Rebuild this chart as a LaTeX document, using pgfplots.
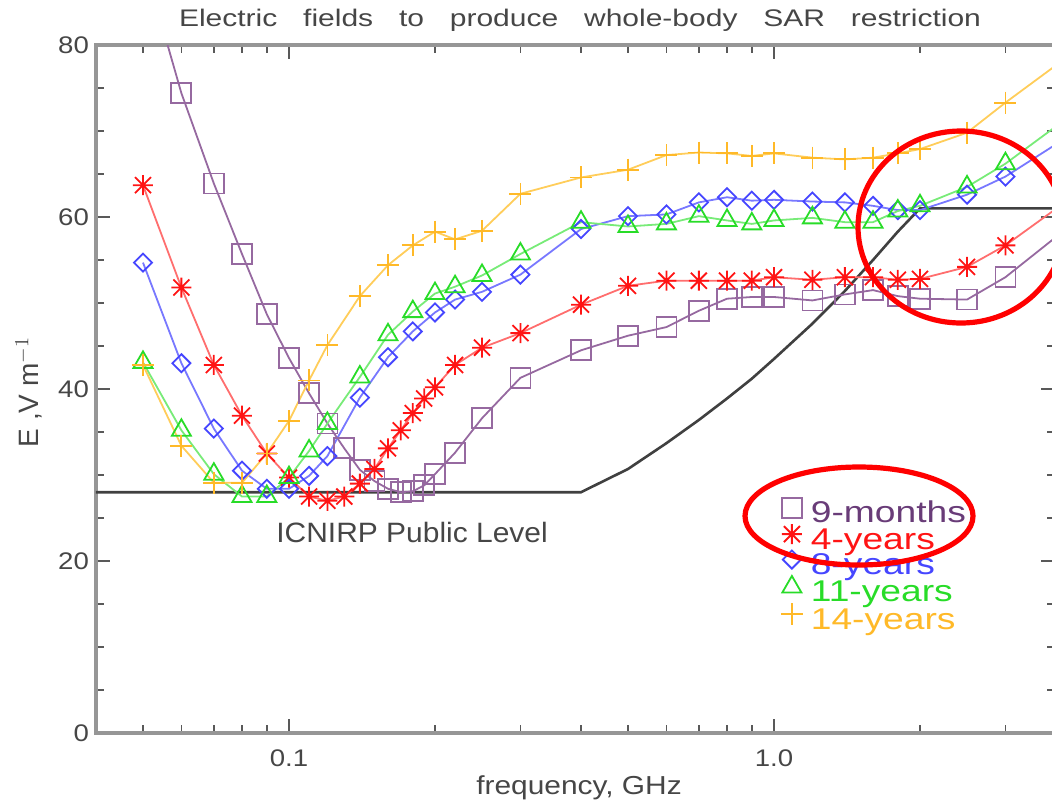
\documentclass[border=0pt]{standalone}
\usepackage{fontspec}
\setmainfont{Liberation Sans}
\newfontfamily\tfont[FakeStretch=1.25,WordSpace=3.1]{Liberation Sans}
\newfontfamily\sfont[FakeStretch=1.15]{Liberation Sans}
\newfontfamily\lfont[FakeStretch=1.24]{Liberation Sans}
\newfontfamily\ifont[FakeStretch=1.07]{Liberation Sans}
\usepackage{pgfplots}
\pgfplotsset{compat=1.18}
\definecolor{purpL}{RGB}{150,105,160}
\definecolor{purpT}{RGB}{105,60,120}
\definecolor{redL}{RGB}{255,110,110}
\definecolor{redM}{RGB}{255,20,20}
\definecolor{bluL}{RGB}{120,120,255}
\definecolor{bluM}{RGB}{70,70,255}
\definecolor{grnL}{RGB}{120,235,120}
\definecolor{grnM}{RGB}{40,220,40}
\definecolor{orgL}{RGB}{255,205,90}
\definecolor{orgM}{RGB}{255,185,40}
\definecolor{axgray}{RGB}{150,150,150}
\definecolor{txtgray}{RGB}{70,70,70}
\pgfdeclareplotmark{ast8}{%
  \pgfpathmoveto{\pgfqpoint{-\pgfplotmarksize}{0pt}}%
  \pgfpathlineto{\pgfqpoint{\pgfplotmarksize}{0pt}}%
  \pgfpathmoveto{\pgfqpoint{0pt}{-\pgfplotmarksize}}%
  \pgfpathlineto{\pgfqpoint{0pt}{\pgfplotmarksize}}%
  \pgfpathmoveto{\pgfqpoint{-.8\pgfplotmarksize}{-.8\pgfplotmarksize}}%
  \pgfpathlineto{\pgfqpoint{.8\pgfplotmarksize}{.8\pgfplotmarksize}}%
  \pgfpathmoveto{\pgfqpoint{-.8\pgfplotmarksize}{.8\pgfplotmarksize}}%
  \pgfpathlineto{\pgfqpoint{.8\pgfplotmarksize}{-.8\pgfplotmarksize}}%
  \pgfusepathqstroke}
\begin{document}
\begin{tikzpicture}
\begin{axis}[
  scale only axis, width=479.6pt, height=344pt,
  at={(0pt,0pt)}, anchor=south west,
  xmode=log, xmin=0.04, xmax=3.8, ymin=0, ymax=80,
  xtick={0.1,1}, xticklabels={0.1,1.0},
  minor xtick={0.05,0.06,0.07,0.08,0.09,0.2,0.3,0.4,0.5,0.6,0.7,0.8,0.9,2,3},
  ytick={0,20,40,60,80},
  minor ytick={5,10,15,25,30,35,45,50,55,65,70,75},
  /pgf/number format/assume math mode=true,
  ticklabel style={font=\sfont\fontsize{12}{14}\selectfont, text=txtgray},
  xticklabel style={yshift=-5pt},
  axis line style={axgray, line width=1.6pt},
  major tick length=7pt, minor tick length=4pt,
  tick style={black!65, line width=0.8pt},
  every tick/.style={black!65, line width=0.8pt},
  legend image code/.code={\draw[#1] plot[only marks] coordinates {(0pt,4pt)};},
  legend style={at={(0.714,0.342)}, anchor=north west, draw=none, fill=none,
    inner sep=0pt, outer sep=0pt, row sep=-2.3pt, column sep=4pt,
    font=\lfont\fontsize{15}{16}\selectfont,
    nodes={inner sep=0pt, text height=10pt, text depth=3pt}},
  legend cell align=left,
]
% ICNIRP public level
\addplot[black!75, line width=1.3pt, forget plot] coordinates {
(0.04,28) (0.4,28) (0.5,30.7) (0.6,33.7) (0.7,36.4) (0.8,38.9) (0.9,41.2)
(1.0,43.5) (1.2,47.6) (1.4,51.4) (1.6,55.0) (1.8,58.3) (2.0,61) (4.0,61)};
% 9-months
\addplot[purpL, line width=0.9pt, mark=square, mark size=5pt, mark options={solid, line width=0.9pt}] coordinates {
(0.05,90) (0.06,74.4) (0.07,63.9) (0.08,55.7) (0.09,48.7) (0.1,43.6) (0.11,39.5)
(0.12,36.0) (0.13,33.1) (0.14,30.6) (0.15,29.3) (0.16,28.4) (0.17,28.0) (0.18,28.1)
(0.19,28.8) (0.2,30.1) (0.22,32.6) (0.25,36.6) (0.3,41.3) (0.4,44.5) (0.5,46.2)
(0.6,47.2) (0.7,49.1) (0.8,50.5) (0.9,50.7) (1.0,50.7) (1.2,50.3) (1.4,51.0)
(1.6,51.5) (1.8,50.8) (2.0,50.5) (2.5,50.4) (3.0,53.0) (4.0,58.6)};
\addlegendentry{\textcolor{purpT}{9-months}}
% 4-years
\addplot[redL, line width=0.9pt, mark=ast8, mark size=5pt, mark options={draw=redM, line width=0.9pt}] coordinates {
(0.05,63.7) (0.06,51.8) (0.07,42.8) (0.08,36.9) (0.09,32.5) (0.1,29.7) (0.11,27.5)
(0.12,27.0) (0.13,27.5) (0.14,29.0) (0.15,30.7) (0.16,33.1) (0.17,35.2) (0.18,37.2)
(0.19,38.9) (0.2,40.2) (0.22,42.8) (0.25,44.8) (0.3,46.5) (0.4,49.8) (0.5,52.0)
(0.6,52.6) (0.7,52.6) (0.8,52.6) (0.9,52.6) (1.0,53.0) (1.2,52.7) (1.4,53.0)
(1.6,53.0) (1.8,52.7) (2.0,52.8) (2.5,54.2) (3.0,56.7) (4.0,61.8)};
\addlegendentry{\textcolor{redM}{4-years}}
% 8-years
\addplot[bluL, line width=0.9pt, mark=square, mark size=3.2pt, mark options={rotate=45, draw=bluM, line width=0.9pt}] coordinates {
(0.05,54.7) (0.06,43.0) (0.07,35.4) (0.08,30.5) (0.09,28.4) (0.1,28.4) (0.11,29.9)
(0.12,32.2) (0.14,39.0) (0.16,43.7) (0.18,46.7) (0.2,48.9) (0.22,50.4) (0.25,51.3)
(0.3,53.3) (0.4,58.6) (0.5,60.1) (0.6,60.3) (0.7,61.7) (0.8,62.3) (0.9,61.9)
(1.0,62.0) (1.2,61.8) (1.4,61.7) (1.6,61.3) (1.8,60.8) (2.0,60.8) (2.5,62.6)
(3.0,64.7) (4.0,69.2)};
\addlegendentry{\textcolor{bluM}{8-years}}
% 11-years
\addplot[grnL, line width=0.9pt, mark=triangle, mark size=5.5pt, mark options={draw=grnM, line width=0.9pt}] coordinates {
(0.05,43.1) (0.06,35.2) (0.07,30.1) (0.08,27.5) (0.09,27.5) (0.1,29.7) (0.11,32.8)
(0.12,36.0) (0.14,41.4) (0.16,46.3) (0.18,49.0) (0.2,51.1) (0.22,51.9) (0.25,53.2)
(0.3,55.7) (0.4,59.4) (0.5,58.9) (0.6,59.2) (0.7,60.1) (0.8,59.6) (0.9,59.2)
(1.0,59.6) (1.2,59.9) (1.4,59.4) (1.6,59.4) (1.8,60.7) (2.0,61.3) (2.5,63.5)
(3.0,66.2) (4.0,71.4)};
\addlegendentry{\textcolor{grnM}{11-years}}
% 14-years
\addplot[orgL, line width=0.9pt, mark=+, mark size=5.5pt, mark options={draw=orgM, line width=0.9pt}] coordinates {
(0.05,42.8) (0.06,33.4) (0.07,29.1) (0.08,29.1) (0.09,32.5) (0.1,36.3) (0.11,41.0)
(0.12,45.1) (0.14,50.8) (0.16,54.4) (0.18,56.7) (0.2,58.3) (0.22,57.4) (0.25,58.4)
(0.3,62.7) (0.4,64.6) (0.5,65.5) (0.6,67.2) (0.7,67.5) (0.8,67.4) (0.9,67.1)
(1.0,67.4) (1.2,66.9) (1.4,66.7) (1.6,66.9) (1.8,67.4) (2.0,67.9) (2.5,69.8)
(3.0,73.3) (4.0,78.5)};
\addlegendentry{\textcolor{orgM}{14-years}}
\end{axis}
% texts
\node[anchor=base, text=txtgray, font=\tfont\fontsize{12}{14}\selectfont] at (242pt,353pt)
  {Electric fields to produce whole-body SAR restriction};
\node[anchor=base, text=txtgray, font=\sfont\fontsize{13}{15}\selectfont] at (241.5pt,-30.5pt)
  {frequency, GHz};
\node[rotate=90, text=txtgray, font=\fontsize{14}{16}\selectfont] at (-33.5pt,170.5pt)
  {E ,V m$^{-1}$};
\node[anchor=base west, inner sep=0pt, text=txtgray, font=\ifont\fontsize{14}{16}\selectfont] at (90pt,95.5pt)
  {ICNIRP Public Level};
% annotation ellipses
\draw[red, line width=2.6pt] (432.5pt,253pt) ellipse [x radius=51.5pt, y radius=48pt];
\draw[red, line width=2.6pt] (381.5pt,108.5pt) ellipse [x radius=57pt, y radius=24.5pt];
\pgfresetboundingbox
\path[use as bounding box] (-48pt,-36pt) rectangle (478pt,366.5pt);
\end{tikzpicture}
\end{document}
